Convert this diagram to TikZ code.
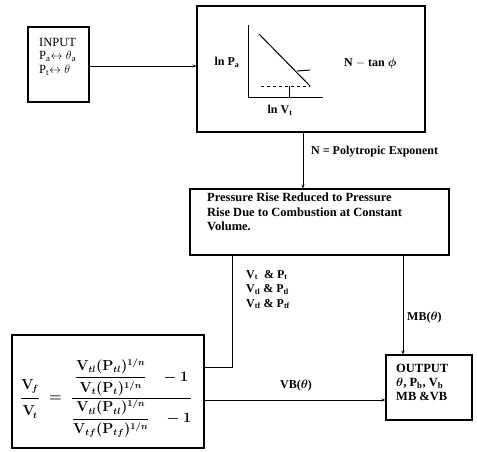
\documentclass[tikz,border=0pt]{standalone}
\usepackage{fontspec}
\setmainfont{Liberation Serif}
\usepackage{amsmath}
\usetikzlibrary{arrows.meta}

\begin{document}
\begin{tikzpicture}[x=1pt,y=-1pt,
    box/.style={draw, line width=1.1pt, inner sep=0pt},
    conn/.style={line width=0.7pt},
    tip/.style={conn, -{Stealth[length=4pt,width=3pt]}},
    lbl/.style={font=\fontsize{12}{14}\selectfont\bfseries, inner sep=0pt}]
    \useasboundingbox (0,0) rectangle (477,451);
    % boxes
    \node[box, minimum width=61pt, minimum height=75pt] (input) at (58.5,64.5) {};
    \node[box, minimum width=228pt, minimum height=126pt] (curve) at (311,69) {};
    \node[box, minimum width=259pt, minimum height=66pt] (reduce) at (319.5,222) {};
    \node[box, minimum width=192pt, minimum height=113pt] (ratio) at (108,391.5) {};
    \node[box, minimum width=86pt, minimum height=65pt] (output) at (429,387.5) {};
    % box texts
    \node[lbl, font=\fontsize{12.5}{13.5}\selectfont, align=left, anchor=north west] (intxt) at (39,38)
        {INPUT\\P\textsubscript{a}$\leftrightarrow\theta$\textsubscript{a}\\P\textsubscript{t}$\leftrightarrow\theta$};
    \node[lbl, font=\fontsize{12.5}{14}\selectfont\bfseries, align=left, anchor=north west] (outtxt) at (396,364)
        {OUTPUT\\$\boldsymbol{\theta}$, P\textsubscript{b}, V\textsubscript{b}\\MB \&VB};
    \node[lbl, font=\fontsize{12.5}{14.5}\selectfont\bfseries, align=left, anchor=north west] (redtxt) at (207,193)
        {Pressure Rise Reduced to Pressure\\Rise Due to Combustion at Constant\\Volume.};
    \node[lbl, font=\fontsize{13.5}{16}\selectfont\boldmath, anchor=west] (eq) at (20,398)
        {$\dfrac{\mathbf{V}_{\!f}\rule[-6pt]{0pt}{6pt}}{\rule{0pt}{16pt}\mathbf{V}_{\!t}}\;=\;
         \dfrac{\dfrac{\mathbf{V}_{tl}(\mathbf{P}_{tl})^{1/n}}{\mathbf{V}_t(\mathbf{P}_t)^{1/n}}\quad-1\rule[-8pt]{0pt}{8pt}}
               {\rule{0pt}{22pt}\dfrac{\mathbf{V}_{tl}(\mathbf{P}_{tl})^{1/n}}{\mathbf{V}_{tf}(\mathbf{P}_{tf})^{1/n}}\quad-1}$};
    % ln P - ln V sketch
    \draw[line width=1pt] (248,25) -- (248,97) -- (323,97);
    \draw[line width=1pt] (259,34) -- (310,86);
    \draw[line width=1pt, dashed] (261,86) -- (310,86);
    \draw[line width=1pt] (289,86) -- (289,97);
    \draw[line width=1pt] (297,71) -- (310,70);
    \node[lbl] (lnp) at (227,62) {ln P\textsubscript{a}};
    \node[lbl] (lnv) at (280,110) {ln V\textsubscript{t}};
    \node[lbl, anchor=west] (tanphi) at (344,63) {N $-$ tan $\boldsymbol{\phi}$};
    % connectors
    \draw[tip] (input.east |- 0,66) -- (curve.west |- 0,66);
    \draw[tip] (curve.south -| 303,0) -- (reduce.north -| 303,0);
    \node[lbl, anchor=west] (ntxt) at (311,152) {N = Polytropic Exponent};
    \draw[conn] (reduce.south -| 232,0) |- (ratio.east |- 0,367);
    \node[lbl, font=\fontsize{12}{14.5}\selectfont\bfseries, align=left, anchor=north west] (vptxt) at (246,270)
        {V\textsubscript{t} \ \& P\textsubscript{t}\\V\textsubscript{tl} \& P\textsubscript{tl}\\V\textsubscript{tf} \& P\textsubscript{tf}};
    \draw[tip] (reduce.south -| 403,0) -- (output.north -| 403,0);
    \node[lbl, anchor=west] (mbtxt) at (407,318) {MB($\boldsymbol{\theta}$)};
    \draw[tip] (ratio.east |- 0,400) -- (output.west |- 0,400);
    \node[lbl] (vbtxt) at (296,386) {VB($\boldsymbol{\theta}$)};
\end{tikzpicture}
\end{document}
